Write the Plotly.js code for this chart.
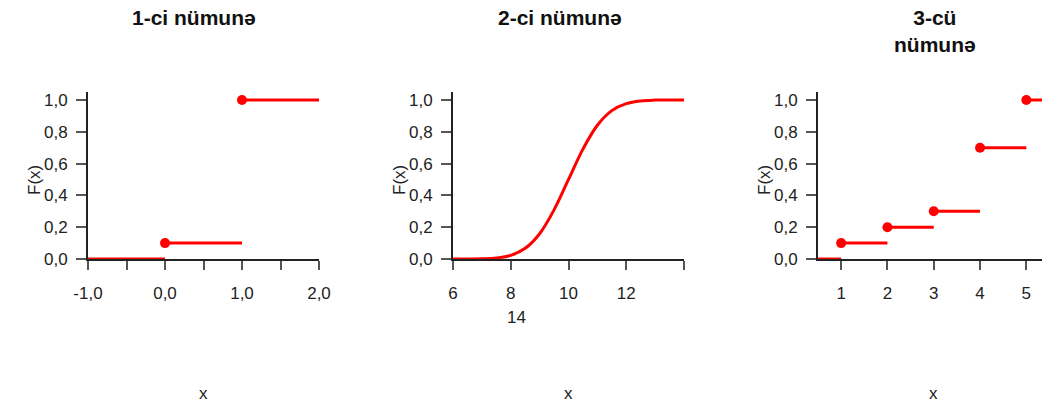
<!DOCTYPE html>
<html>
<head>
<meta charset="utf-8">
<script src="https://cdn.plot.ly/plotly-3.0.1.min.js"></script>
<style>html,body{margin:0;padding:0;background:#fff;}#chart{width:1042px;height:403px;}</style>
</head>
<body>
<div id="chart"></div>
<script>
// Sample 1: step CDF
const s1Start = [-1, 0, 1];
const s1End = [0, 1, 2];
const s1F = [0, 0.1, 1.0];
const s1TickVals = [-1, -0.5, 0, 0.5, 1, 1.5, 2];
const s1TickText = ["-1,0", "", "0,0", "", "1,0", "", "2,0"];

// Sample 2: continuous CDF
const s2X = [6, 6.5, 7, 7.5, 8, 8.5, 9, 9.5, 10, 10.5, 11, 11.5, 12, 12.5, 13, 13.5, 14];
const s2F = [0.0, 0.0, 0.001, 0.006, 0.023, 0.067, 0.159, 0.309, 0.5, 0.691, 0.841, 0.933, 0.977, 0.994, 0.999, 1.0, 1.0];
const s2TickVals = [6, 8, 10, 12, 14];
const s2TickText = ["6", "8", "10", "12", ""];

// Sample 3: step CDF
const s3Start = [0.5, 1, 2, 3, 4, 5];
const s3End = [1, 2, 3, 4, 5, 6];
const s3F = [0, 0.1, 0.2, 0.3, 0.7, 1.0];
const s3TickVals = [1, 2, 3, 4, 5];
const s3TickText = ["1", "2", "3", "4", "5"];

const yTickVals = [0, 0.2, 0.4, 0.6, 0.8, 1.0];
const yTickText = ["0,0", "0,2", "0,4", "0,6", "0,8", "1,0"];

const titles = ["<b>1-ci nümunə</b>", "<b>2-ci nümunə</b>", "<b>3-cü<br>nümunə</b>"];

const RED = "#ff0000";
const FONT = "Liberation Sans, Arial, sans-serif";

function stepTraces(starts, ends, F, xa, ya) {
  const lx = [], ly = [];
  for (let i = 0; i < starts.length; i++) {
    lx.push(starts[i], ends[i], null);
    ly.push(F[i], F[i], null);
  }
  return [
    {x: lx, y: ly, xaxis: xa, yaxis: ya, mode: "lines", type: "scatter",
     line: {color: RED, width: 3}, hoverinfo: "skip", showlegend: false},
    {x: starts.slice(1), y: F.slice(1), xaxis: xa, yaxis: ya, mode: "markers", type: "scatter",
     marker: {color: RED, size: 10}, showlegend: false}
  ];
}

const traces = [
  ...stepTraces(s1Start, s1End, s1F, "x", "y"),
  {x: s2X, y: s2F, xaxis: "x2", yaxis: "y2", mode: "lines", type: "scatter",
   line: {color: RED, width: 3, shape: "spline"}, showlegend: false},
  ...stepTraces(s3Start, s3End, s3F, "x3", "y3")
];

const W = 1042, H = 403;
const yDom = [1 - 259 / H, 1 - 92 / H];

function xAxis(dom, range, tv, tt, anchor) {
  return {domain: dom, range: range, anchor: anchor, tickmode: "array", tickvals: tv, ticktext: tt,
    showgrid: false, zeroline: false, showline: true, linecolor: "#222", linewidth: 2,
    ticks: "outside", ticklen: 9, tickwidth: 2, tickcolor: "#555", ticklabelstandoff: 9,
    tickfont: {family: FONT, size: 17, color: "#222"}, fixedrange: true};
}
function yAxis(anchor) {
  return {domain: yDom, range: [0, 1.05], anchor: anchor, tickmode: "array",
    tickvals: yTickVals, ticktext: yTickText,
    showgrid: false, zeroline: false, showline: true, linecolor: "#222", linewidth: 2,
    ticks: "outside", ticklen: 10, tickwidth: 2, tickcolor: "#555", ticklabelstandoff: 5,
    tickfont: {family: FONT, size: 17, color: "#222"}, fixedrange: true};
}

const d1 = [88 / W, 319 / W], d2 = [453 / W, 684 / W], d3 = [818 / W, 1];
const titleX = [194 / W, 560 / W, 935 / W];
const xTitleX = [(88 + 319) / 2 / W, (453 + 684) / 2 / W, (818 + 1049) / 2 / W];
const yTitleX = [34 / W, 399 / W, 764 / W];

const annotations = [];
titles.forEach((t, i) => {
  annotations.push({text: t, xref: "paper", yref: "paper", x: titleX[i], y: 1 - 4 / H,
    xanchor: "center", yanchor: "top", showarrow: false,
    font: {family: FONT, size: 21, color: "#111"}});
  annotations.push({text: "x", xref: "paper", yref: "paper", x: xTitleX[i], y: 1 - 393 / H,
    xanchor: "center", yanchor: "middle", showarrow: false,
    font: {family: FONT, size: 17, color: "#222"}});
  annotations.push({text: "F(x)", xref: "paper", yref: "paper", x: yTitleX[i], y: 1 - 180 / H,
    xanchor: "center", yanchor: "middle", textangle: -90, showarrow: false,
    font: {family: FONT, size: 17, color: "#222"}});
});
annotations.push({text: "14", xref: "paper", yref: "paper", x: 516 / W, y: 1 - 317 / H,
  xanchor: "center", yanchor: "middle", showarrow: false,
  font: {family: FONT, size: 17, color: "#222"}});

const layout = {
  width: W, height: H, margin: {l: 0, r: 0, t: 0, b: 0},
  paper_bgcolor: "#fff", plot_bgcolor: "#fff", showlegend: false,
  xaxis: xAxis(d1, [-1, 2], s1TickVals, s1TickText, "y"),
  yaxis: yAxis("x"),
  xaxis2: xAxis(d2, [6, 14], s2TickVals, s2TickText, "y2"),
  yaxis2: yAxis("x2"),
  xaxis3: xAxis(d3, [0.5, 5.338], s3TickVals, s3TickText, "y3"),
  yaxis3: yAxis("x3"),
  annotations: annotations
};

Plotly.newPlot("chart", traces, layout, {displayModeBar: false, staticPlot: true});
</script>
</body>
</html>
